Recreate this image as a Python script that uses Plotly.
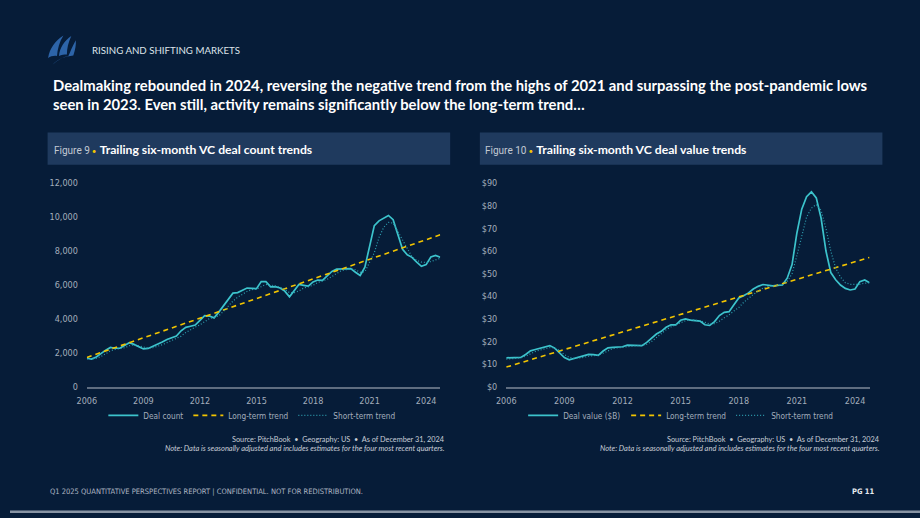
import plotly.graph_objects as go

W, H = 920, 518

# ---------------- data ----------------
start_year = 2006
n_quarters = 76
quarters = [start_year + 0.25 * i for i in range(n_quarters)]

deal_count = [
    1680, 1630, 1760, 1980,
    2160, 2320, 2270, 2270,
    2430, 2600, 2500, 2370,
    2230, 2260, 2380, 2490,
    2640, 2790, 2870, 2990,
    3300, 3500, 3570, 3640,
    3920, 4190, 4170, 4060,
    4400, 4750, 5150, 5520,
    5550, 5680, 5820, 5800,
    5780, 6200, 6200, 5890,
    5900, 5820, 5640, 5300,
    5640, 6030, 5980, 5930,
    6180, 6290, 6270, 6530,
    6800, 6930, 6940, 6920,
    6970, 6750, 6560, 7050,
    8300, 9500, 9780, 9950,
    10100, 9850, 9000, 8100,
    7780, 7630, 7350, 7100,
    7200, 7650, 7740, 7630,
]
deal_count_short = [
    1650, 1640, 1680, 1780,
    1950, 2120, 2200, 2250,
    2300, 2420, 2480, 2420,
    2330, 2270, 2300, 2380,
    2480, 2600, 2720, 2830,
    2980, 3200, 3380, 3520,
    3650, 3850, 4020, 4100,
    4180, 4450, 4750, 5050,
    5280, 5450, 5620, 5730,
    5760, 5900, 6030, 6000,
    5950, 5880, 5750, 5550,
    5550, 5650, 5820, 5900,
    5980, 6150, 6220, 6330,
    6500, 6700, 6850, 6900,
    6950, 6900, 6750, 6780,
    7300, 7900, 8800, 9400,
    9690, 9650, 9150, 8630,
    8100, 7660, 7450, 7350,
    7330, 7380, 7480, 7570,
]
count_trend_ends = [1730, 8960]

deal_value = [
    12.8, 12.9, 13.0, 13.0,
    14.3, 15.9, 16.5, 17.1,
    17.6, 18.2, 17.1, 15.0,
    12.9, 11.9, 12.5, 13.1,
    13.4, 14.3, 14.2, 13.9,
    15.8, 17.2, 17.4, 17.4,
    17.7, 18.4, 18.3, 18.1,
    18.2, 19.6, 21.3, 23.3,
    24.5, 26.3, 27.4, 27.4,
    29.4, 30.0, 29.5, 29.2,
    29.0, 27.4, 27.1, 28.8,
    31.5, 32.9, 33.2, 36.3,
    39.3, 40.2, 41.5, 43.2,
    44.4, 45.2, 44.8, 44.6,
    44.8, 45.0, 48.0, 54.0,
    68.0, 78.5, 84.0, 86.2,
    83.5, 74.5, 60.0, 50.5,
    47.3, 45.0, 43.5, 42.8,
    43.2, 46.5, 47.2, 46.0,
]
deal_value_short = [
    12.2, 12.4, 12.6, 12.8,
    13.5, 14.6, 15.6, 16.3,
    16.8, 17.3, 17.2, 16.0,
    14.3, 13.0, 12.5, 12.6,
    13.0, 13.5, 13.9, 14.0,
    14.8, 16.0, 16.9, 17.2,
    17.4, 17.8, 18.1, 18.2,
    18.1, 18.8, 20.0, 21.8,
    23.6, 25.2, 26.5, 27.3,
    28.3, 29.2, 29.6, 29.4,
    29.2, 28.5, 27.8, 27.9,
    29.0, 30.5, 31.8, 33.5,
    35.0, 37.3, 39.2, 40.8,
    42.3, 43.6, 44.3, 44.6,
    44.6, 45.0, 46.5, 50.0,
    58.0, 67.0, 75.0, 79.0,
    80.6, 78.0, 70.0, 60.0,
    52.5, 48.5, 46.0, 45.3,
    45.2, 45.3, 45.8, 46.0,
]
value_trend_ends = [8.7, 57.2]

x_ticks = [2006, 2009, 2012, 2015, 2018, 2021, 2024]
count_ticks = [0, 2000, 4000, 6000, 8000, 10000, 12000]
value_ticks = [0, 10, 20, 30, 40, 50, 60, 70, 80, 90]

# ---------------- style ----------------
BG = "#061c38"
BAND = "#1f3a5e"
CYAN = "#3cc3cc"
DOT = "#2e9fb0"
YEL = "#f2c400"
TICK = "#a3adbb"
AXIS = "#5f6d80"
NARROW = "Liberation Sans Narrow, DejaVu Sans Condensed, sans-serif"
ROBO = "Roboto, sans-serif"
SANS = "Lato, Open Sans, sans-serif"


def px(x):
    return x / W


def py(y):
    return (H - y) / H


fig = go.Figure()

x_end = quarters[-1]

# Chart 1
fig.add_trace(go.Scatter(x=quarters, y=deal_count, mode="lines", name="Deal count", legendwidth=40,
                         line=dict(color=CYAN, width=1.7), xaxis="x", yaxis="y", legend="legend"))
fig.add_trace(go.Scatter(x=[quarters[0], x_end], y=count_trend_ends, mode="lines", name="Long-term trend",
                         legendwidth=60,
                         line=dict(color=YEL, width=1.6, dash="5px,4px"), xaxis="x", yaxis="y", legend="legend"))
fig.add_trace(go.Scatter(x=quarters, y=deal_count_short, mode="lines", name="Short-term trend", legendwidth=62,
                         line=dict(color=DOT, width=1.2, dash="1px,2px"), xaxis="x", yaxis="y", legend="legend"))

# Chart 2
fig.add_trace(go.Scatter(x=quarters, y=deal_value, mode="lines", name="Deal value ($B)", legendwidth=58,
                         line=dict(color=CYAN, width=1.7), xaxis="x2", yaxis="y2", legend="legend2"))
fig.add_trace(go.Scatter(x=[quarters[0], x_end], y=value_trend_ends, mode="lines", name="Long-term trend",
                         legendwidth=60,
                         line=dict(color=YEL, width=1.6, dash="5px,4px"), xaxis="x2", yaxis="y2", legend="legend2"))
fig.add_trace(go.Scatter(x=quarters, y=deal_value_short, mode="lines", name="Short-term trend", legendwidth=62,
                         line=dict(color=DOT, width=1.2, dash="1px,2px"), xaxis="x2", yaxis="y2", legend="legend2"))

xaxis_common = dict(
    range=[quarters[0], x_end], tickvals=x_ticks, ticktext=[str(t) for t in x_ticks],
    showgrid=False, zeroline=False, showline=True, linecolor=AXIS, linewidth=1.5,
    ticks="", tickfont=dict(family=NARROW, size=9, color=TICK), ticklabelstandoff=5,
    fixedrange=True,
)
yaxis_common = dict(
    showgrid=False, zeroline=False, showline=False, ticks="",
    tickfont=dict(family=NARROW, size=9, color=TICK), ticklabelstandoff=8, fixedrange=True,
)

y_dom = [py(389.3), py(181.7)]
legend_font = dict(family=NARROW, size=8.2, color=TICK)

fig.update_layout(
    width=W, height=H,
    margin=dict(l=0, r=0, t=0, b=0),
    paper_bgcolor=BG, plot_bgcolor=BG,
    showlegend=True,
    xaxis=dict(domain=[px(77.7), px(435)], anchor="y", **xaxis_common),
    yaxis=dict(domain=y_dom, anchor="x", range=[0, 12000], tickvals=count_ticks,
               ticktext=[f"{v:,}" for v in count_ticks], **yaxis_common),
    xaxis2=dict(domain=[px(501.7), px(869)], anchor="y2", **xaxis_common),
    yaxis2=dict(domain=y_dom, anchor="x2", range=[0, 90], tickvals=value_ticks,
                ticktext=[f"${v}" for v in value_ticks], **yaxis_common),
    legend=dict(orientation="h", x=px(244.5), xanchor="center", y=py(418.5), yanchor="middle",
                font=legend_font, bgcolor="rgba(0,0,0,0)", itemwidth=30, tracegroupgap=0),
    legend2=dict(orientation="h", x=px(678), xanchor="center", y=py(418.5), yanchor="middle",
                 font=legend_font, bgcolor="rgba(0,0,0,0)", itemwidth=30, tracegroupgap=0),
)

shapes = []
# header bands
shapes.append(dict(type="rect", xref="paper", yref="paper", x0=px(38), x1=px(445), y0=py(163), y1=py(130),
                   fillcolor=BAND, line=dict(width=0), layer="below"))
shapes.append(dict(type="rect", xref="paper", yref="paper", x0=px(475), x1=px(882), y0=py(163), y1=py(130),
                   fillcolor=BAND, line=dict(width=0), layer="below"))
# bottom strip
shapes.append(dict(type="rect", xref="paper", yref="paper", x0=0, x1=1, y0=0, y1=py(515.5),
                   fillcolor="#8793a3", line=dict(width=0)))


# logo (sails)
def path(points):
    cmds = []
    for cmd, coords in points:
        pts = " ".join(f"{px(a):.5f},{py(b):.5f}" for a, b in coords)
        cmds.append(f"{cmd} {pts}")
    return " ".join(cmds) + " Z"


LOGO = "#2d64a8"
sail1 = path([("M", [(38.5, 54)]), ("C", [(40, 44), (46, 36), (54, 31)]),
              ("C", [(50, 37), (48, 45), (47.5, 52)]), ("C", [(44, 51.5), (41, 52.5), (38.5, 54)])])
sail2 = path([("M", [(49.5, 52)]), ("C", [(50, 44), (55, 36), (62, 31.5)]),
              ("C", [(59, 38), (57.5, 44), (57.5, 50.5)]), ("C", [(55, 50.5), (52, 51), (49.5, 52)])])
sail3 = path([("M", [(43, 61)]), ("C", [(48, 55), (56, 52.5), (64, 51.5)]),
              ("C", [(66, 46), (67, 40), (66.5, 36)]), ("C", [(63, 42), (61, 48), (59, 52)]),
              ("C", [(54, 53), (48, 56), (43, 61)])])
for p in (sail1, sail2, sail3):
    shapes.append(dict(type="path", xref="paper", yref="paper", path=p, fillcolor=LOGO, line=dict(width=0)))

fig.update_layout(shapes=shapes)

ann = []


def text(x, y, s, size, color="#ffffff", family=SANS, xanchor="left", yanchor="middle", align="left"):
    ann.append(dict(x=px(x), y=py(y), xref="paper", yref="paper", text=s, showarrow=False,
                    xanchor=xanchor, yanchor=yanchor, align=align,
                    font=dict(size=size, color=color, family=family)))


text(81, 45.5, "RISING AND SHIFTING MARKETS", 9.7, color="#dfe4ea", family=SANS)
text(41, 82, "<b>Dealmaking rebounded in 2024, reversing the negative trend from the highs of 2021 and surpassing the post-pandemic lows</b>", 14.8)
text(41, 100.5, "<b>seen in 2023. Even still, activity remains significantly below the long-term trend…</b>", 14.8)

text(42, 147, f"<span style='font-family:{ROBO}; color:#c3cad4; font-size:10px'>Figure 9</span>"
     f"<span style='color:{YEL}; font-size:8px'> •</span> <b>Trailing six-month VC deal count trends</b>", 12.2)
text(478, 147, f"<span style='font-family:{ROBO}; color:#c3cad4; font-size:10px'>Figure 10</span>"
     f"<span style='color:{YEL}; font-size:8px'> •</span> <b>Trailing six-month VC deal value trends</b>", 12.2)

src = "Source: PitchBook  •  Geography: US  •  As of December 31, 2024"
note = "<i>Note: Data is seasonally adjusted and includes estimates for the four most recent quarters.</i>"
text(441.5, 443.5, src, 7.3, color="#c8ced7", family=SANS, xanchor="right")
text(441.5, 452.5, note, 7.5, color="#c8ced7", family=SANS, xanchor="right")
text(882, 443.5, src, 7.3, color="#c8ced7", family=SANS, xanchor="right")
text(882, 452.5, note, 7.5, color="#c8ced7", family=SANS, xanchor="right")

text(38, 496, "Q1 2025 QUANTITATIVE PERSPECTIVES REPORT | CONFIDENTIAL. NOT FOR REDISTRIBUTION.", 7.5,
     color="#aeb6c2", family=NARROW)
text(877, 496, "<b>PG 11</b>", 7.5, color="#e6eaef", family=NARROW, xanchor="right")

fig.update_layout(annotations=ann)

fig.write_html("out.html")
